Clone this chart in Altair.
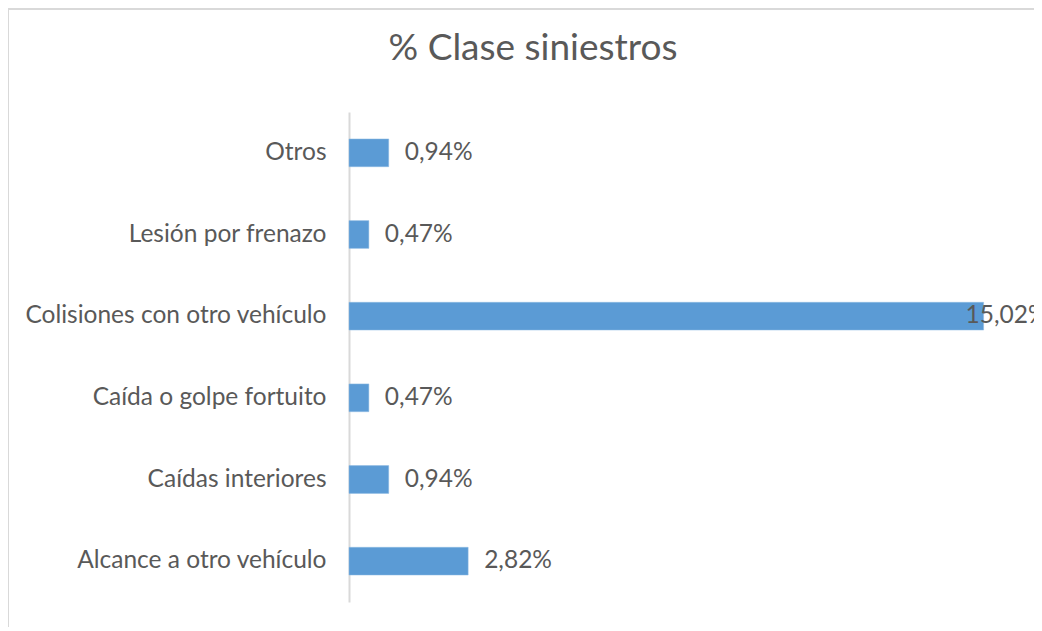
import altair as alt
import pandas as pd

categories = ["Otros\u00a0", "Lesión por frenazo", "Colisiones con otro vehículo",
              "Caída o golpe fortuito", "Caídas interiores", "Alcance a otro vehículo"]
values = [0.94, 0.47, 15.02, 0.47, 0.94, 2.82]
labels = ["0,94%", "0,47%", "15,02%", "0,47%", "0,94%", "2,82%"]

df = pd.DataFrame({"cat": categories, "val": values, "lab": labels})

FONT = "Lato"
GREY = "#595959"

y_enc = alt.Y("cat:N", sort=categories, title=None,
              scale=alt.Scale(paddingInner=0.66, paddingOuter=0.33),
              axis=alt.Axis(domain=True, domainColor="#d9d9d9", domainWidth=2,
                            ticks=False, labelFont=FONT, labelFontSize=24.5,
                            labelColor=GREY, labelPadding=23, labelLimit=0, grid=False))
x_enc = alt.X("val:Q", title=None, scale=alt.Scale(domain=[0, 16], nice=False),
              axis=None)

base = alt.Chart(df)

bars = base.mark_bar(color="#5b9bd5", stroke="#8fbbe3", strokeWidth=0.5).encode(x=x_enc, y=y_enc)

small = base.transform_filter("datum.val < 10").mark_text(
    align="left", baseline="middle", dx=16, font=FONT, fontSize=24.5, color=GREY
).encode(x=x_enc, y=y_enc, text="lab:N")

big = base.transform_filter("datum.val >= 10").mark_text(
    align="left", baseline="middle", dx=-18, font=FONT, fontSize=24.5, color=GREY
).encode(x=x_enc, y=y_enc, text="lab:N")

border = alt.Chart(pd.DataFrame({"a": [0]})).mark_rect(
    fillOpacity=0, stroke="#d9d9d9", strokeWidth=2
).encode(x=alt.value(-341), x2=alt.value(1500), y=alt.value(-103), y2=alt.value(700))

chart = alt.layer(border, bars, small, big).properties(
    width=676, height=490,
    title=alt.TitleParams("% Clase siniestros", font=FONT, fontSize=37, color=GREY,
                          fontWeight="normal", anchor="middle", frame="group",
                          baseline="bottom", dx=-154, offset=-97),
    autosize=alt.AutoSizeParams(type="none"),
    padding={"left": 341, "top": 104, "right": 9, "bottom": 25},
).configure_view(stroke=None)

chart.save("out.html", embed_options={"renderer": "svg", "actions": False})
